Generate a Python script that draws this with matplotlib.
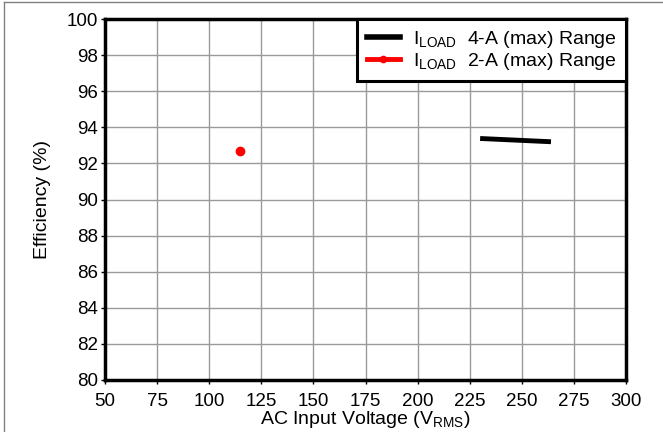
import matplotlib as mpl
import matplotlib.pyplot as plt
from matplotlib.lines import Line2D

mpl.rcParams['font.family'] = ['Liberation Sans', 'DejaVu Sans']
mpl.rcParams['mathtext.fontset'] = 'custom'
mpl.rcParams['mathtext.rm'] = 'Liberation Sans'
mpl.rcParams['mathtext.it'] = 'Liberation Sans'

# data
v_4a = [230, 264]
eff_4a = [93.38, 93.2]
v_2a = [115]
eff_2a = [92.7]

xticks = list(range(50, 301, 25))
yticks = list(range(80, 101, 2))

fig = plt.figure(figsize=(6.63, 4.32), dpi=100)
ax = fig.add_axes([105 / 663, 1 - 380 / 432, (626 - 105) / 663, (380 - 19) / 432])

ax.plot(v_4a, eff_4a, color='black', lw=3.5, solid_capstyle='butt')
ax.plot(v_2a, eff_2a, 'o', color='red', ms=6)

ax.set_xlim(50, 300)
ax.set_ylim(80, 100)
ax.set_xticks(xticks)
ax.set_yticks(yticks)
ax.grid(True, color='#9a9a9a', lw=1)
ax.set_axisbelow(True)
for s in ax.spines.values():
    s.set_linewidth(2.5)
ax.tick_params(direction='out', length=3, width=1, labelsize=13.5, pad=2)
ax.tick_params(axis='x', pad=6)

ax.set_xlabel(r'AC Input Voltage (V$_{\mathrm{RMS}}$)', fontsize=14, labelpad=0)
ax.set_ylabel('Efficiency (%)', fontsize=14, labelpad=11)

handles = [Line2D([], [], color='black', lw=4),
           Line2D([], [], color='red', lw=3.5, marker='o', ms=4.5, markevery=[0, 1])]
leg = ax.legend(handles, [r'I$_{\mathrm{LOAD}}$  4-A (max) Range',
                          r'I$_{\mathrm{LOAD}}$  2-A (max) Range'],
                loc='upper right', bbox_to_anchor=(1.0, 1.0), fontsize=14,
                fancybox=False, framealpha=1, edgecolor='black',
                borderaxespad=0, handlelength=1.7, handletextpad=0.65,
                labelspacing=0.05, borderpad=0.5)
leg.get_frame().set_linewidth(2.2)

# outer frame lines at top and left
fig.add_artist(Line2D([4 / 663, 1], [1 - 2 / 432, 1 - 2 / 432], color='#808080', lw=1))
fig.add_artist(Line2D([4 / 663, 4 / 663], [0, 1 - 2 / 432], color='#808080', lw=1))

fig.savefig('out.png', dpi=100)
